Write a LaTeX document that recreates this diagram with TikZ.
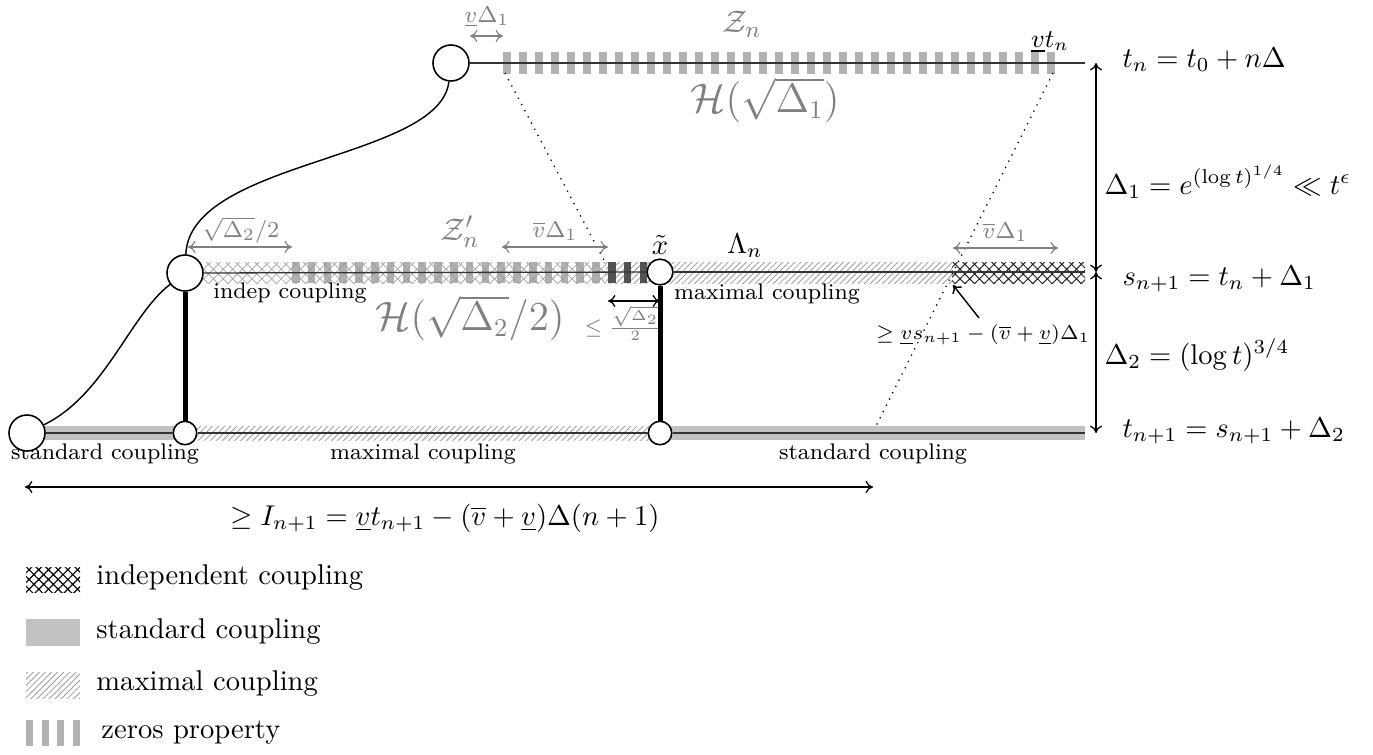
\documentclass[tikz,border=0pt]{standalone}
\usepackage{amsmath,amssymb}
\usetikzlibrary{patterns.meta,arrows.meta}
\newcommand\szR{\fontsize{10.2}{12}\selectfont}
\newcommand\szI{\fontsize{10}{12}\selectfont}
\newcommand\szZ{\fontsize{11}{13}\selectfont}
\newcommand\szL{\fontsize{13.5}{16}\selectfont}
\newcommand\szS{\fontsize{7.9}{10}\selectfont}
\newcommand\szV{\fontsize{9}{11}\selectfont}
\newcommand\szT{\fontsize{6.9}{8}\selectfont}
\begin{document}
\begin{tikzpicture}[x=0.35pt,y=-0.35pt,>={To[length=2.6pt,width=4.2pt]},
  stdband/.style={fill=black!24,draw=none},
  maxband/.style={pattern={Lines[angle=45,distance=1.5pt,line width=0.3pt]},pattern color=black!38},
  indlight/.style={pattern={Hatch[angle=45,distance=2.4pt,line width=0.3pt]},pattern color=black!32},
  inddark/.style={pattern={Hatch[angle=45,distance=2.4pt,line width=0.35pt]},pattern color=black!85},
  zbar/.style={fill=black!30,draw=none},
  zbarm/.style={fill=black!38,fill opacity=0.8,draw=none},
  zbard/.style={fill=black!68,draw=none},
  axisline/.style={draw=black!80,line width=0.45pt},
  vtx/.style={circle,draw,fill=white,inner sep=0pt,line width=0.55pt},
  rung/.style={line width=1.75pt},
  glab/.style={text=black!50,inner sep=1pt},
  garrow/.style={draw=black!50,<->,line width=0.4pt},
  lbl/.style={inner sep=1pt}]
\useasboundingbox (0,0) rectangle (1373,754);

% ---- bands ----
\fill[stdband] (27,426) rectangle (185,440);
\fill[maxband] (185,426) rectangle (660,440);
\fill[stdband] (660,426) rectangle (1085,440);
\fill[indlight] (185,262) rectangle (606,283);
\fill[maxband] (606,262) rectangle (952,283);
\fill[inddark] (952,262) rectangle (1085,283);
% ---- zeros bars ----
\foreach \i in {0,...,34} \fill[zbar] ({503+16*\i},52) rectangle ++(8,22);
\foreach \i in {0,...,19} \fill[zbarm] ({292+15.8*\i},262) rectangle ++(7.5,21);
\foreach \i in {20,21,22} \fill[zbard] ({292+15.8*\i},262) rectangle ++(7.5,21);

% ---- dotted guides ----
\coordinate (dl1) at (505,73);
\coordinate (dl2) at (606,264);
\coordinate (dr1) at (1053,73);
\coordinate (dr2) at (875,428);
\draw[dotted,line width=0.45pt] (dl1) -- (dl2);
\draw[dotted,line width=0.45pt] (dr1) -- (dr2);

% ---- bottom labels (under circles) ----
\node[lbl,font=\szS] (lsc1) at (105,454) {standard coupling};
\node[lbl,font=\szS] (lmc1) at (423,454) {maximal coupling};
\node[lbl,font=\szS] (lsc2) at (873,454) {standard coupling};

% ---- vertices ----
\node[vtx,minimum size=12.6pt] (A) at (451,63) {};
\node[vtx,minimum size=12.6pt] (B) at (185,273) {};
\node[vtx,minimum size=9pt] (X) at (660,272) {};
\node[vtx,minimum size=12.6pt] (C) at (27,433) {};
\node[vtx,minimum size=8.2pt] (D) at (185,433) {};
\node[vtx,minimum size=8.2pt] (E) at (660,433) {};
\coordinate (topend) at (1085,63);
\coordinate (midend) at (1085,272);
\coordinate (botend) at (1085,433);

% ---- horizontal lines ----
\draw[axisline] (A) -- (topend);
\draw[axisline] (B) -- (X);
\draw[axisline] (X) -- (midend);
\draw[axisline] (C) -- (D);
\draw[axisline] (D) -- (E);
\draw[axisline] (E) -- (botend);

% ---- curves and rungs ----
\draw[line width=0.5pt] (A) .. controls (440,160) and (190,160) .. (B);
\draw[line width=0.5pt] (B) .. controls (130,315) and (105,395) .. (C);
\draw[rung] (B) -- (D);
\draw[rung] (X) -- (E);

% ---- top annotations ----
\coordinate (ta1) at (470,36); \coordinate (ta2) at (503,36);
\draw[garrow] (ta1) -- (ta2);
\node[glab,font=\szS] (tlab) at (487,17) {$\underline{v}\Delta_1$};
\node[glab,font=\szZ] (zn) at (742,24) {$\mathcal{Z}_n$};
\node[lbl,font=\szV] (vtn) at (1050,42) {$\underline{v}t_n$};
\node[glab,font=\szL] (h1) at (765,100) {$\mathcal{H}(\sqrt{\Delta_1})$};

% ---- middle annotations ----
\coordinate (ma1) at (188,247); \coordinate (ma2) at (292,247);
\draw[garrow] (ma1) -- (ma2);
\node[glab,font=\szS] (sq) at (241,230) {$\sqrt{\Delta_2}/2$};
\node[glab,font=\szZ] (zpn) at (460,232) {$\mathcal{Z}'_n$};
\coordinate (mb1) at (502,247); \coordinate (mb2) at (608,247);
\draw[garrow] (mb1) -- (mb2);
\node[glab,font=\szS] (vb1) at (555,231) {$\overline{v}\Delta_1$};
\node[lbl,font=\szR] (xt) at (660,245) {$\tilde{x}$};
\node[lbl,font=\szR] (lam) at (745,246) {$\Lambda_n$};
\coordinate (mc1) at (953,248); \coordinate (mc2) at (1058,248);
\draw[garrow] (mc1) -- (mc2);
\node[glab,font=\szS] (vb2) at (1005,232) {$\overline{v}\Delta_1$};
\node[lbl,font=\szS] (indep) at (290,293) {indep coupling};
\node[glab,font=\szL] (h2) at (470,318) {$\mathcal{H}(\sqrt{\Delta_2}/2)$};
\node[lbl,font=\szS] (maxc) at (767,294) {maximal coupling};
\coordinate (md1) at (608,301); \coordinate (md2) at (660,301);
\draw[<->,line width=0.45pt] (md1) -- (md2);
\node[glab,font=\szT] (le) at (623,323) {$\le\frac{\sqrt{\Delta_2}}{2}$};
\node[lbl,font=\szT] (ge) at (983,335) {$\ge\underline{v}s_{n+1}-(\overline{v}+\underline{v})\Delta_1$};
\coordinate (pt1) at (979,318); \coordinate (pt2) at (953,285);
\draw[->,line width=0.5pt] (pt1) -- (pt2);

% ---- right scale ----
\coordinate (r1) at (1096,63); \coordinate (r2) at (1096,272); \coordinate (r3) at (1096,433);
\draw[<->,line width=0.45pt] (r1) -- (r2);
\draw[<->,line width=0.45pt] (r2) -- (r3);
\node[lbl,font=\szR,anchor=base west,inner sep=0pt] (tn) at (1122,67) {$t_n = t_0 + n\Delta$};
\node[lbl,font=\szR,anchor=base west,inner sep=0pt] (d1) at (1104,194) {$\Delta_1 = e^{(\log t)^{1/4}} \ll t^{\epsilon}$};
\node[lbl,font=\szR,anchor=base west,inner sep=0pt] (sn) at (1122,285) {$s_{n+1} = t_n + \Delta_1$};
\node[lbl,font=\szR,anchor=base west,inner sep=0pt] (d2) at (1104,364) {$\Delta_2 = (\log t)^{3/4}$};
\node[lbl,font=\szR,anchor=base west,inner sep=0pt] (tn1) at (1122,437) {$t_{n+1} = s_{n+1} + \Delta_2$};

% ---- I arrow ----
\coordinate (ia1) at (25,487); \coordinate (ia2) at (873,487);
\draw[<->,line width=0.45pt] (ia1) -- (ia2);
\node[lbl,font=\szI] (il) at (445,518) {$\ge I_{n+1} = \underline{v}t_{n+1} - (\overline{v}+\underline{v})\Delta(n+1)$};

% ---- legend ----
\fill[pattern={Hatch[angle=45,distance=2.4pt,line width=0.4pt]},pattern color=black] (26,567) rectangle (80,592);
\node[lbl,anchor=west] (l1) at (93,578) {independent coupling};
\fill[stdband] (26,619) rectangle (80,646);
\node[lbl,anchor=west] (l2) at (93,632) {standard coupling};
\fill[maxband] (26,672) rectangle (80,698);
\node[lbl,anchor=west] (l3) at (93,684) {maximal coupling};
\foreach \i in {0,1,2,3} \fill[zbar] ({26+15.7*\i},720) rectangle ++(7,26);
\node[lbl,anchor=west] (l4) at (98,733) {zeros property};
\end{tikzpicture}
\end{document}
